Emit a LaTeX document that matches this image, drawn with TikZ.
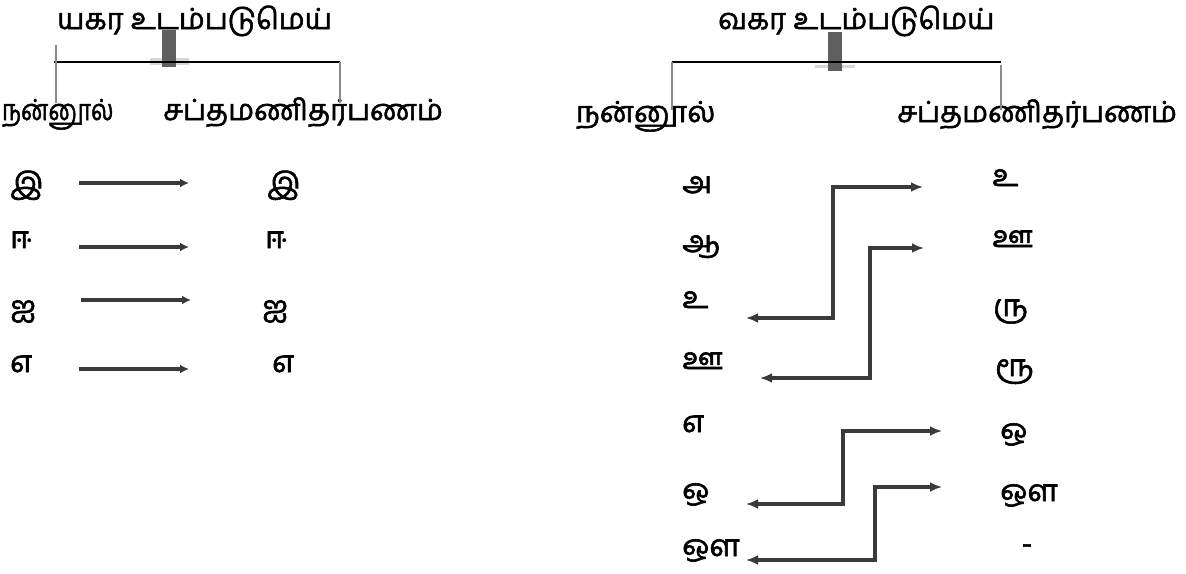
\documentclass[tikz,border=0pt]{standalone}
\usepackage{fontspec}
\newfontfamily\tam[Script=Tamil,FakeBold=1.8]{Hind Madurai}
\usetikzlibrary{arrows.meta}
\definecolor{arrgray}{HTML}{3A3A3A}
\definecolor{bargray}{HTML}{5F5F5F}
\definecolor{lightbar}{HTML}{D8D8D8}
\definecolor{stemgray}{HTML}{8A8A8A}
\begin{document}
\begin{tikzpicture}[x=1pt,y=-1pt,
  txt/.style={inner sep=0pt,anchor=base west,font=\tam\fontsize{29}{33}\selectfont},
  row/.style={inner sep=0pt,anchor=base west,font=\tam\fontsize{30}{34}\selectfont},
  stem/.style={draw=stemgray,line width=2pt},
  bar/.style={draw=black,line width=2.6pt},
  straight/.style={draw=arrgray,line width=4.5pt,-{Latex[length=9pt,width=9pt]}},
  conn/.style={draw=arrgray,line width=3.2pt,{Latex[length=12pt,width=10pt]}-{Latex[length=12pt,width=10pt]}}]
\useasboundingbox (0,0) rectangle (1186,573);
\fill[white] (0,0) rectangle (1186,573);

% ---------- left tree ----------
\node[txt] (ytitle) at (57,29) {யகர உடம்படுமெய்};
\fill[lightbar] (150,58) rectangle (189,65);
\fill[bargray] (162,30) rectangle (176,67);
\coordinate (yl) at (54,62);
\coordinate (yr) at (340,62);
\draw[bar] (yl) -- (yr);
\node[txt,xscale=0.8,transform shape] (ynan) at (2,120) {நன்னூல்};
\node[txt] (ysap) at (163,120) {சப்தமணிதர்பணம்};
\coordinate (ystemtop) at (56,45);
\coordinate (ystemL) at (56,103);
\coordinate (ystemR) at (340,103);
\draw[stem] (ystemtop) -- (ystemL);
\draw[stem] (340,62) -- (ystemR);

\node[row] (a1) at (10,194) {இ};
\node[row] (b1) at (267,194) {இ};
\node[row] (a2) at (10,248) {ஈ};
\node[row] (b2) at (265,248) {ஈ};
\node[row] (a3) at (10,317) {ஐ};
\node[row] (b3) at (262,317) {ஐ};
\node[row] (a4) at (10,372) {எ};
\node[row] (b4) at (272,372) {எ};
\coordinate (s1) at (79,183); \coordinate (e1) at (189,183);
\coordinate (s2) at (79,247); \coordinate (e2) at (189,247);
\coordinate (s3) at (81,300); \coordinate (e3) at (191,300);
\coordinate (s4) at (79,369); \coordinate (e4) at (189,369);
\draw[straight] (s1) -- (e1);
\draw[straight] (s2) -- (e2);
\draw[straight] (s3) -- (e3);
\draw[straight] (s4) -- (e4);

% ---------- right tree ----------
\node[txt] (vtitle) at (718,29) {வகர உடம்படுமெய்};
\fill[lightbar] (815,65) rectangle (855,68);
\fill[bargray] (828,32) rectangle (842,71);
\coordinate (vl) at (672,62);
\coordinate (vr) at (1001,62);
\draw[bar] (vl) -- (vr);
\node[txt] (vnan) at (576,122) {நன்னூல்};
\node[txt] (vsap) at (897,122) {சப்தமணிதர்பணம்};
\coordinate (vstemL) at (672,110);
\coordinate (vstemR) at (1001,110);
\draw[stem] (vl) -- (vstemL);
\draw[stem] (1001,65) -- (vstemR);

\node[row] (l1) at (682,193) {அ};
\node[row] (l2) at (682,252) {ஆ};
\node[row] (l3) at (682,308) {உ};
\node[row] (l4) at (682,369) {ஊ};
\node[row] (l5) at (682,432) {எ};
\node[row] (l6) at (682,500) {ஒ};
\node[row] (l7) at (682,556) {ஔ};

\node[row] (r1) at (992,186) {உ};
\node[row] (r2) at (992,247) {ஊ};
\node[row] (r3) at (993,316) {ரு};
\node[row] (r4) at (995,376) {ரூ};
\node[row] (r5) at (1000,440) {ஒ};
\node[row] (r6) at (1000,501) {ஔ};
\node[inner sep=0pt,font=\tam\fontsize{30}{34}\selectfont] (r7) at (1027,549) {-};

\coordinate (c1a) at (746,318); \coordinate (c1b) at (923,187);
\coordinate (c2a) at (760,378); \coordinate (c2b) at (924,248);
\coordinate (c3a) at (746,504); \coordinate (c3b) at (942,431);
\coordinate (c4a) at (746,560); \coordinate (c4b) at (942,487);
\draw[conn] (c1a) -- (833,318) -- (833,187) -- (c1b);
\draw[conn] (c2a) -- (870,378) -- (870,248) -- (c2b);
\draw[conn] (c3a) -- (843,504) -- (843,431) -- (c3b);
\draw[conn] (c4a) -- (875,560) -- (875,487) -- (c4b);
\end{tikzpicture}
\end{document}
